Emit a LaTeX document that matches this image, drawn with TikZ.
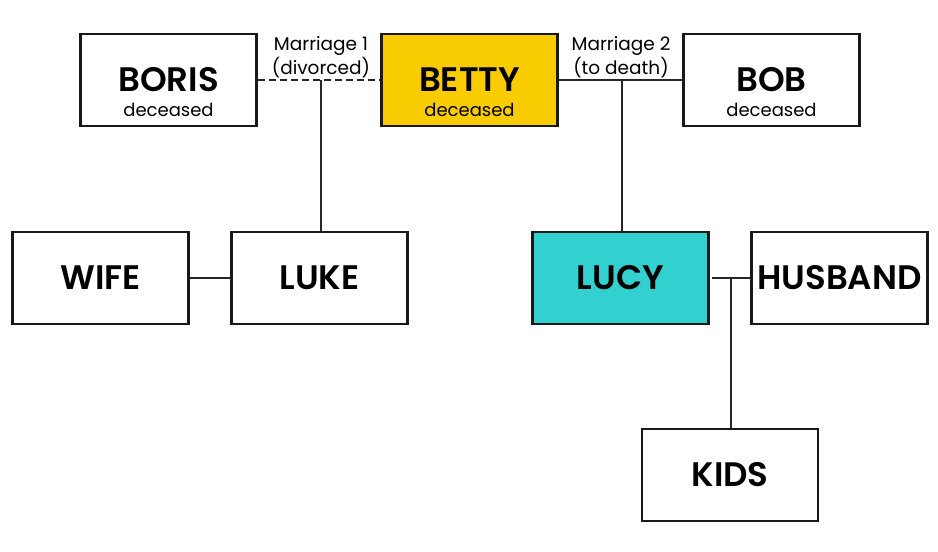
\documentclass[tikz,border=0pt]{standalone}
\usepackage{fontspec}
\setmainfont{Poppins}[BoldFont={Poppins SemiBold}]
\definecolor{gold}{HTML}{F8CC00}
\definecolor{teal}{HTML}{33D0D0}
\begin{document}
\begin{tikzpicture}[x=1pt,y=-1pt,
  person/.style={draw=black!90,line width=2.4pt,minimum width=176pt,minimum height=92pt,inner sep=0pt,align=center,font=\fontsize{34}{36}\selectfont\bfseries},
  sub/.style={font=\fontsize{18}{20}\selectfont,inner sep=0pt,anchor=base},
  link/.style={draw=black!85,line width=2pt},
  note/.style={font=\fontsize{18.5}{24}\selectfont,align=center,inner sep=0pt}]
\useasboundingbox (0,0) rectangle (938,552);
\node[person] (boris) at (168.5,80) {BORIS};
\node[person,fill=gold] (betty) at (469.5,80) {BETTY};
\node[person] (bob) at (771.5,80) {BOB};
\node[sub] (bd) at (168.5,116) {deceased};
\node[sub] (ed) at (469.5,116) {deceased};
\node[sub] (od) at (771.5,116) {deceased};
\node[person] (wife) at (100.5,278) {WIFE};
\node[person] (luke) at (319.5,278) {LUKE};
\node[person,fill=teal] (lucy) at (620.5,278) {LUCY};
\node[person] (husband) at (839.5,278) {HUSBAND};
\node[person] (kids) at (730,475) {KIDS};
\coordinate (m1) at (321,80);
\coordinate (m2) at (622,80);
\coordinate (m3) at (731,278);
\coordinate (lucyR) at (712,278);
\draw[link,dash pattern=on 7pt off 4pt] (boris.east) -- (betty.west);
\draw[link] (betty.east) -- (bob.west);
\draw[link] (m1) -- (m1 |- luke.north);
\draw[link] (m2) -- (m2 |- lucy.north);
\draw[link] (wife.east) -- (luke.west);
\draw[link] (lucyR) -- (husband.west);
\draw[link] (m3) -- (m3 |- kids.north);
\node[note] (n1) at (321,57) {Marriage 1\\(divorced)};
\node[note] (n2) at (621,57) {Marriage 2\\(to death)};
\end{tikzpicture}
\end{document}
